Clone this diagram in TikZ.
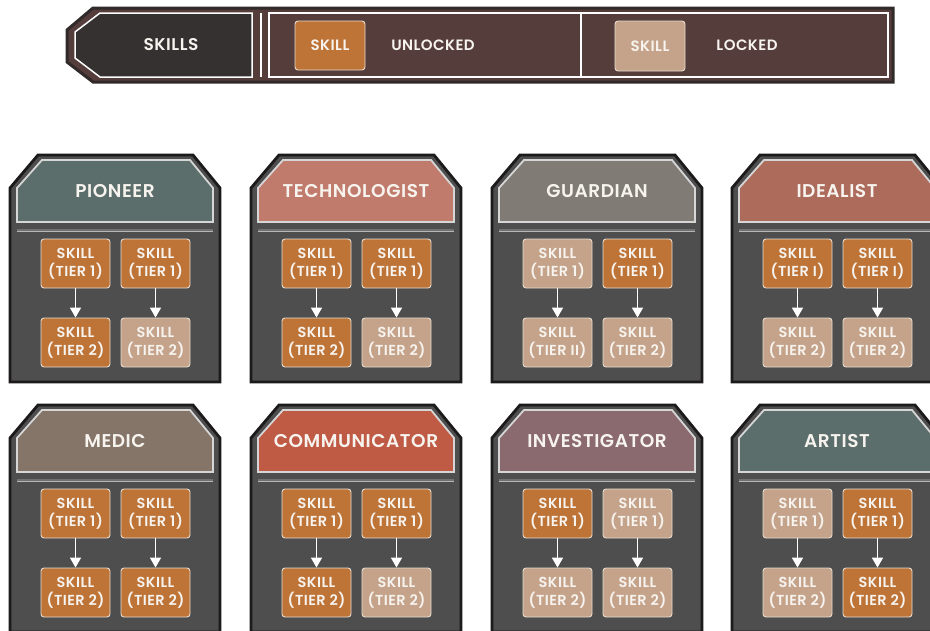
\documentclass[tikz,border=0pt]{standalone}
\usepackage{fontspec}
\setmainfont{Poppins SemiBold}[LetterSpace=3]
\usetikzlibrary{arrows.meta}
\definecolor{outline}{HTML}{1C1A1A}
\definecolor{cardgray}{HTML}{4E4E4E}
\definecolor{hdrline}{HTML}{D6D6D6}
\definecolor{unlocked}{HTML}{BE7337}
\definecolor{locked}{HTML}{C4A38A}
\definecolor{boxline}{HTML}{E8DCD0}
\definecolor{txt}{HTML}{F7F3EE}
\definecolor{barfill}{HTML}{553D3B}
\definecolor{barline}{HTML}{302A2A}
\definecolor{skillsfill}{HTML}{353131}
\definecolor{cPioneer}{HTML}{5B6E6B}
\definecolor{cTech}{HTML}{C07B6C}
\definecolor{cGuard}{HTML}{807B75}
\definecolor{cIdeal}{HTML}{AD6B5C}
\definecolor{cMedic}{HTML}{857468}
\definecolor{cComm}{HTML}{BF5A45}
\definecolor{cInv}{HTML}{8A6A6E}
\definecolor{cArt}{HTML}{5B6E6B}
\tikzset{
  cardbody/.style={fill=cardgray, draw=outline, line width=2.8pt, line join=miter},
  headerplate/.style={draw=hdrline, line width=1.8pt, line join=miter},
  sepline/.style={draw=hdrline!85!black, double=cardgray!80!white, double distance=1.2pt, line width=0.9pt},
  skillbox/.style={minimum width=69pt, minimum height=49pt, inner sep=0pt, rounded corners=3pt,
    draw=boxline, line width=0.9pt, text=txt, align=center, font=\fontsize{14.5}{18}\selectfont},
  unl/.style={skillbox, fill=unlocked},
  lck/.style={skillbox, fill=locked},
  arr/.style={draw=white, line width=1.7pt, -{Triangle[width=11pt,length=10pt]}},
  cardtitle/.style={text=txt, font=\fontsize{18.5}{20}\selectfont},
  legendtext/.style={text=txt, font=\fontsize{15}{16}\selectfont},
}
\newcommand\cardframe[3]{%
  \draw[cardbody] (28,0) -- (183,0) -- (210,33) -- (210,227) -- (0,227) -- (0,33) -- cycle;
  \draw[headerplate, fill=#1] (32,5) -- (180,5) -- (203,33) -- (203,67) -- (7,67) -- (7,33) -- cycle;
  \node[cardtitle] (#3title) at (105,36.5) {#2};
  \draw[sepline] (7,75) -- (203,75);
}
\newcommand\skillnodes[9]{%
  \node[#2] (#1a) at (65.5,108.5) {SKILL\\(TIER #3)};
  \node[#4] (#1b) at (145.5,108.5) {SKILL\\(TIER #5)};
  \node[#6] (#1c) at (65.5,187.5) {SKILL\\(TIER #7)};
  \node[#8] (#1d) at (145.5,187.5) {SKILL\\(TIER #9)};
  \draw[arr] (#1a) -- (#1c);
  \draw[arr] (#1b) -- (#1d);
}
\begin{document}
\begin{tikzpicture}[x=1pt,y=-1pt]
\useasboundingbox (0,0) rectangle (930,630);
\fill[white] (0,0) rectangle (930,630);
\clip (0,0) rectangle (930,630);

% legend bar
\draw[fill=barfill, draw=barline, line width=3pt, line join=miter]
  (93,8) -- (893,8) -- (893,82) -- (93,82) -- (67,62) -- (67,30) -- cycle;
\draw[fill=skillsfill, draw=white, line width=1.5pt, line join=miter]
  (100,13) -- (252,13) -- (252,77) -- (100,77) -- (75,58) -- (75,32) -- cycle;
\node[legendtext, font=\fontsize{17}{18}\selectfont] (skills) at (171,45) {SKILLS};
\draw[white, line width=2pt] (261,13) -- (261,77);
\draw[white, line width=1.5pt] (269,13) rectangle (888,77);
\draw[white, line width=1.5pt] (581,13) -- (581,77);
\node[skillbox, fill=unlocked, minimum width=70pt, font=\fontsize{15}{16}\selectfont] (legU) at (330,45.5) {SKILL};
\node[legendtext] (unlockedtxt) at (433,45.5) {UNLOCKED};
\node[skillbox, fill=locked, minimum width=70pt, minimum height=50pt, font=\fontsize{15}{16}\selectfont] (legL) at (650,46) {SKILL};
\node[legendtext] (lockedtxt) at (747,45.5) {LOCKED};

% row 1
\begin{scope}[shift={(10,155)}]
  \cardframe{cPioneer}{PIONEER}{pio}
  \skillnodes{pio}{unl}{1}{unl}{1}{unl}{2}{lck}{2}
\end{scope}
\begin{scope}[shift={(251,155)}]
  \cardframe{cTech}{TECHNOLOGIST}{tec}
  \skillnodes{tec}{unl}{1}{unl}{1}{unl}{2}{lck}{2}
\end{scope}
\begin{scope}[shift={(492,155)}]
  \cardframe{cGuard}{GUARDIAN}{gua}
  \skillnodes{gua}{lck}{1}{unl}{1}{lck}{II}{lck}{2}
\end{scope}
\begin{scope}[shift={(732,155)}]
  \cardframe{cIdeal}{IDEALIST}{ide}
  \skillnodes{ide}{unl}{I}{unl}{I}{lck}{2}{lck}{2}
\end{scope}

% row 2
\begin{scope}[shift={(10,405)}]
  \cardframe{cMedic}{MEDIC}{med}
  \skillnodes{med}{unl}{1}{unl}{1}{unl}{2}{unl}{2}
\end{scope}
\begin{scope}[shift={(251,405)}]
  \cardframe{cComm}{COMMUNICATOR}{com}
  \skillnodes{com}{unl}{1}{unl}{1}{unl}{2}{lck}{2}
\end{scope}
\begin{scope}[shift={(492,405)}]
  \cardframe{cInv}{INVESTIGATOR}{inv}
  \skillnodes{inv}{unl}{1}{lck}{1}{lck}{2}{lck}{2}
\end{scope}
\begin{scope}[shift={(732,405)}]
  \cardframe{cArt}{ARTIST}{art}
  \skillnodes{art}{lck}{1}{unl}{1}{lck}{2}{unl}{2}
\end{scope}
\end{tikzpicture}
\end{document}
